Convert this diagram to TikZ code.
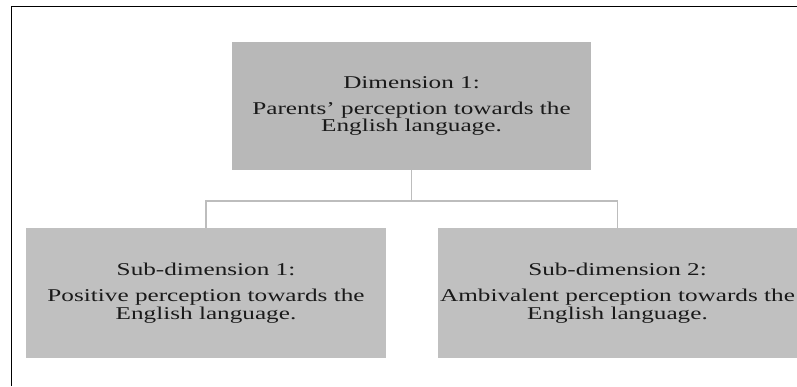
\documentclass[tikz,border=0pt]{standalone}
\usepackage{fontspec}
\setmainfont{Liberation Serif}[FakeStretch=1.4]
\definecolor{topfill}{HTML}{B8B8B8}
\definecolor{subfill}{HTML}{C0C0C0}
\definecolor{connclr}{HTML}{BDBDBD}
\definecolor{txtclr}{HTML}{1A1A1A}
\begin{document}
\begin{tikzpicture}[x=1pt,y=-1pt,
  dimbox/.style={fill=#1, draw=none, inner sep=0pt, align=center,
    text=txtclr, font=\fontsize{18}{17.5}\selectfont},
  conn/.style={draw=connclr, line width=1.6pt},
  frameline/.style={draw=black, line width=1.3pt}]
\useasboundingbox (0,0) rectangle (797,386);
\draw[frameline] (11.8,386) -- (11.8,6.6) -- (797,6.6);
\node[dimbox=topfill, minimum width=359pt, minimum height=128pt] (top) at (411.5,106)
  {Dimension 1:\\[8.5pt]Parents' perception towards the\\English language.};
\node[dimbox=subfill, minimum width=360pt, minimum height=130pt] (left) at (206,293)
  {Sub-dimension 1:\\[8.5pt]Positive perception towards the\\English language.};
\node[dimbox=subfill, minimum width=359pt, minimum height=130pt] (right) at (617.5,293)
  {Sub-dimension 2:\\[8.5pt]Ambivalent perception towards the\\English language.};
\coordinate (hub) at (411.5,201);
\draw[conn] (top.south) -- (hub);
\draw[conn] (left.north) |- (hub) -| (right.north);
\end{tikzpicture}
\end{document}
